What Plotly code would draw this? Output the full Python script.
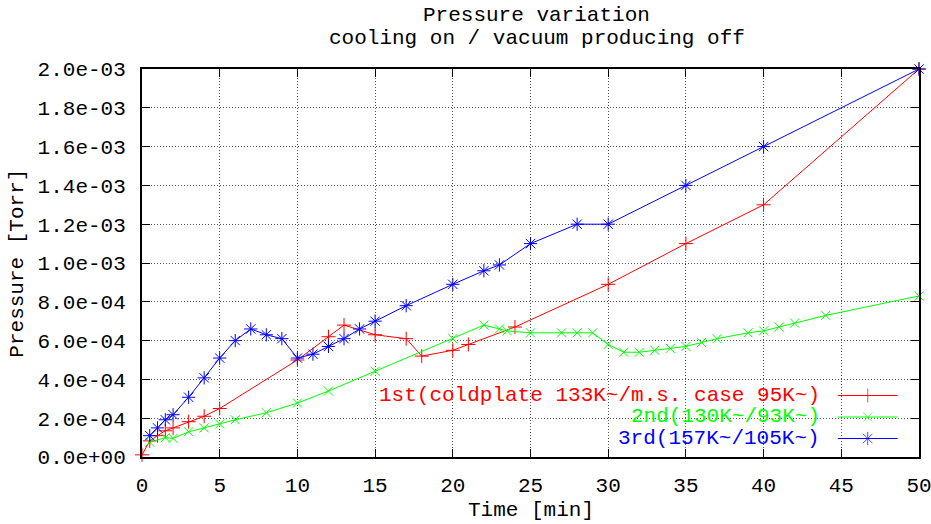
import plotly.graph_objects as go

# ---- data ----
time_1st = [0, 0.5, 1, 1.5, 2, 3, 4, 5, 10, 12, 13, 15, 17, 18, 20, 21, 24, 30, 35, 40, 50]
p_1st = [1.1e-5, 8.3e-5, 1.1e-4, 1.35e-4, 1.5e-4, 1.82e-4, 2.1e-4, 2.5e-4, 5.0e-4, 6.2e-4,
         6.8e-4, 6.3e-4, 6.1e-4, 5.2e-4, 5.5e-4, 5.8e-4, 6.7e-4, 8.9e-4, 1.1e-3, 1.3e-3, 2.0e-3]

time_2nd = [0.5, 1.5, 2, 3, 4, 5, 6, 8, 10, 12, 15, 20, 22, 23, 23.5, 25, 27, 28, 29, 30,
            31, 32, 33, 34, 35, 36, 37, 39, 40, 41, 42, 44, 50]
p_2nd = [7.6e-5, 1.0e-4, 9.6e-5, 1.3e-4, 1.5e-4, 1.7e-4, 1.92e-4, 2.28e-4, 2.78e-4, 3.4e-4,
         4.42e-4, 6.1e-4, 6.8e-4, 6.6e-4, 6.5e-4, 6.4e-4, 6.4e-4, 6.4e-4, 6.4e-4, 5.8e-4,
         5.4e-4, 5.4e-4, 5.5e-4, 5.6e-4, 5.7e-4, 5.9e-4, 6.1e-4, 6.4e-4, 6.5e-4, 6.7e-4,
         6.9e-4, 7.3e-4, 8.3e-4]

time_3rd = [0.5, 1, 1.5, 2, 3, 4, 5, 6, 7, 8, 9, 10, 11, 12, 13, 14, 15, 17, 20, 22, 23,
            25, 28, 30, 35, 40, 50]
p_3rd = [1.1e-4, 1.5e-4, 1.92e-4, 2.18e-4, 3.08e-4, 4.08e-4, 5.1e-4, 6.0e-4, 6.6e-4, 6.3e-4,
         6.1e-4, 5.1e-4, 5.3e-4, 5.7e-4, 6.1e-4, 6.6e-4, 7.0e-4, 7.8e-4, 8.9e-4, 9.6e-4,
         9.9e-4, 1.1e-3, 1.2e-3, 1.2e-3, 1.4e-3, 1.6e-3, 2.0e-3]

series_names = ["1st(coldplate 133K~/m.s. case 95K~)", "2nd(130K~/93K~)", "3rd(157K~/105K~)"]
series_colors = ["#ff0000", "#00ff00", "#0000ff"]
series_symbols = ["cross-thin", "x-thin", "asterisk"]
series_sizes = [10, 9, 11]

x_ticks = [0, 5, 10, 15, 20, 25, 30, 35, 40, 45, 50]
y_ticks = [0, 2e-4, 4e-4, 6e-4, 8e-4, 1.0e-3, 1.2e-3, 1.4e-3, 1.6e-3, 1.8e-3, 2.0e-3]
y_tick_text = [f"{v:.1e}" for v in y_ticks]

FONT = "Liberation Mono, Courier New, monospace"
FS = 21

fig = go.Figure()
data = [(time_1st, p_1st), (time_2nd, p_2nd), (time_3rd, p_3rd)]
for (xs, ys), name, col, sym, sz in zip(data, series_names, series_colors, series_symbols, series_sizes):
    fig.add_trace(go.Scatter(
        x=xs, y=ys, name=name, mode="lines+markers", cliponaxis=False,
        line=dict(color=col, width=1),
        marker=dict(symbol=sym, size=sz, color=col, line=dict(color=col, width=1)),
        showlegend=False))

# legend (gnuplot style: text right-aligned, sample on the right)
row_y = [0.1585, 0.1031, 0.0477]
text_right = 0.875
sample_x = [0.8955, 0.934, 0.9725]
for name, col, sym, sz, ry in zip(series_names, series_colors, series_symbols, series_sizes, row_y):
    fig.add_annotation(x=text_right, y=ry, xref="paper", yref="paper", text=name,
                       showarrow=False, xanchor="right", yanchor="middle",
                       font=dict(family=FONT, size=FS, color=col))
    fig.add_trace(go.Scatter(
        x=sample_x, y=[ry] * 3, xaxis="x2", yaxis="y2", mode="lines+markers",
        line=dict(color=col, width=1), cliponaxis=False,
        marker=dict(symbol=sym, size=[0, sz, 0], color=col, line=dict(color=col, width=1)),
        showlegend=False, hoverinfo="skip"))

# opaque key box hiding grid
fig.add_shape(type="rect", xref="paper", yref="paper", x0=0.197, x1=0.981, y0=0.012, y1=0.19,
              fillcolor="white", line=dict(width=0), layer="between")

# titles
fig.add_annotation(x=0.508, y=1.1366, xref="paper", yref="paper", text="Pressure variation",
                   showarrow=False, xanchor="center", yanchor="middle",
                   font=dict(family=FONT, size=FS, color="black"))
fig.add_annotation(x=0.508, y=1.0791, xref="paper", yref="paper",
                   text="cooling on / vacuum producing off",
                   showarrow=False, xanchor="center", yanchor="middle",
                   font=dict(family=FONT, size=FS, color="black"))
fig.add_annotation(x=0.5, y=-0.1384, xref="paper", yref="paper", text="Time [min]",
                   showarrow=False, xanchor="center", yanchor="middle",
                   font=dict(family=FONT, size=FS, color="black"))
fig.add_annotation(x=-0.1613, y=0.5, xref="paper", yref="paper", text="Pressure [Torr]",
                   showarrow=False, xanchor="center", yanchor="middle", textangle=-90,
                   font=dict(family=FONT, size=FS, color="black"))

axis_common = dict(showline=True, linecolor="black", linewidth=2, mirror="ticks",
                   ticks="inside", ticklen=8, tickwidth=1, tickcolor="black",
                   showgrid=True, gridcolor="#555555", gridwidth=1, griddash="1px,2px",
                   zeroline=False, automargin=False, ticklabeloverflow="allow",
                   tickfont=dict(family=FONT, size=FS, color="black"))

fig.update_layout(
    width=931, height=524, margin=dict(l=142, r=12, t=69, b=67, autoexpand=False),
    paper_bgcolor="white", plot_bgcolor="white",
    xaxis=dict(range=[0, 50], tickvals=x_ticks, ticktext=[str(v) for v in x_ticks],
               ticklabelstandoff=8, **axis_common),
    yaxis=dict(range=[0, 2e-3], tickvals=y_ticks, ticktext=y_tick_text,
               ticklabelstandoff=10, **axis_common),
    xaxis2=dict(range=[0, 1], overlaying="x", visible=False, fixedrange=True),
    yaxis2=dict(range=[0, 1], overlaying="y", visible=False, fixedrange=True),
    showlegend=False,
)

fig.write_html("out.html")
